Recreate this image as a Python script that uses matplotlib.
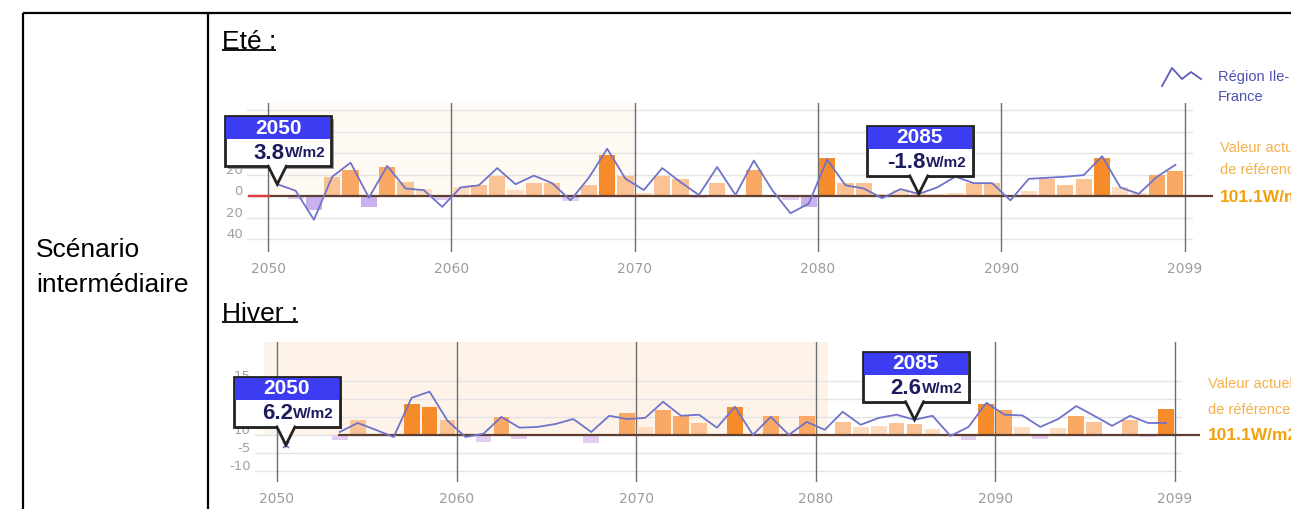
import numpy as np
import matplotlib
matplotlib.use("Agg")
import matplotlib.pyplot as plt
from matplotlib.patches import Rectangle, Polygon

W, H, DPI = 1291, 509, 100

years = list(range(2050, 2100))

# Eté : écart annuel (courbe régionale) et barres
ete_region = [11, 5, -22, 18, 31, -1.5, 28, 7, 5.5, -10,
              8, 10, 26, 11, 19, 12, -4, 17, 44, 16,
              5.6, 26, 13, 1, 27, 1, 33, 5.6, -16, -7,
              34, 10, 7, -2, 6.5, 2, 8, 18, 12, 12,
              -4, 16, 17, 18, 19.5, 37, 8, 2, 18, 29]
ete_barres = [0, -3, -13, 18, 24, -10, 27, 13, 7, -4,
              8, 10, 19, 6, 12, 12, -5, 10, 38, 19,
              3, 19, 16, -2, 12, 1, 24, 1, -4, -10,
              35, 12, 12, 2, 6, 3, 2, 3, 12, 12,
              1, 5, 16, 10, 16, 35, 8, 3, 20, 23]

# Hiver : écart annuel (courbe régionale) et barres
nan = float("nan")
hiver_region = [-2.8, nan, nan, 0.8, 3.3, 1.4, -0.6, 10.3, 12, 3.9,
                -0.6, 0.3, 5, 2, 2.2, 3, 4.4, 0.8, 5.3, 4.4,
                4.7, 9.2, 5.3, 5.6, 2, 7.8, 0, 5, 0, 3.6,
                1.4, 6.4, 2.8, 4.7, 5.6, 4.2, 5.3, -0.3, 2.2, 8.9,
                5.6, 5.4, 2.2, 4.4, 8, 5.3, 2.5, 5.3, 3.3, 3.3]
hiver_barres = [0, 0, 0, -1.5, 4.2, 0, 0, 8.6, 7.8, 4.2,
                0, -1.9, 5, -1.1, -0.3, 0, 0, -2.2, 0, 6,
                2.2, 6.9, 5.3, 3.3, 0, 7.8, 0, 5.3, 0, 5.3,
                0, 3.6, 2.2, 2.5, 3.3, 3, 1.7, 0, -1.5, 8.6,
                6.9, 2.2, -1.1, 2, 5.3, 3.6, 0, 4.2, -0.7, 7.2]

x_ticks = [2050, 2060, 2070, 2080, 2090, 2100]
x_labels = ["2050", "2060", "2070", "2080", "2090", "2099"]

ete_yticks = [-40, -20, 0, 20, 40, 60, 80]
ete_ylabels = ["40", "20", "0", "20", "", "", ""]
hiver_yticks = [-10, -5, 0, 5, 10, 15]
hiver_ylabels = ["-10", "-5", "10", "", "", "15"]

ete_bulles = [(2050, "3.8"), (2085, "-1.8")]
hiver_bulles = [(2050, "6.2"), (2085, "2.6")]

reference = "101.1W/m2"

SANS = ["Liberation Sans", "DejaVu Sans"]
NARROW = ["Liberation Sans Narrow", "Liberation Sans", "DejaVu Sans"]

fig = plt.figure(figsize=(W / DPI, H / DPI), dpi=DPI)
fig.patch.set_facecolor("white")


def px_axes(x0, y0, x1, y1, **kw):
    return fig.add_axes([x0 / W, 1 - y1 / H, (x1 - x0) / W, (y1 - y0) / H], **kw)


ov = px_axes(0, 0, W, H, zorder=10)
ov.set_xlim(0, W)
ov.set_ylim(H, 0)
ov.axis("off")
ov.patch.set_alpha(0)

# table borders
for xs, ys in [([23, W + 5], [13, 13]), ([23, 23], [13, H + 5]), ([208, 208], [13, H + 5])]:
    ov.plot(xs, ys, color="black", lw=1.6, solid_capstyle="butt", clip_on=False)

ov.text(36, 250, "Scénario", fontsize=19, family=SANS, va="center", ha="left")
ov.text(36, 285, "intermédiaire", fontsize=19, family=SANS, va="center", ha="left")

renderer = fig.canvas.get_renderer()


def underlined(x, y, s):
    t = ov.text(x, y, s, fontsize=19, family=SANS, va="center", ha="left")
    bb = t.get_window_extent(renderer)
    (x0, _), (x1, _) = ov.transData.inverted().transform([[bb.x0, bb.y0], [bb.x1, bb.y0]])
    ov.plot([x0, x1], [y + 8, y + 8], color="black", lw=1.3, solid_capstyle="butt")


underlined(222, 42, "Eté :")
underlined(222, 314, "Hiver :")


def bar_colour(v, steps):
    a = abs(v)
    if v >= 0:
        pal = ["#FDDCC0", "#FBC393", "#F9A964", "#F68B2C"]
    else:
        pal = ["#E2CDF3", "#C9B0EE", "#B597E6", "#A07FDD"]
    idx = sum(a >= s for s in steps)
    return pal[idx]


def draw_chart(box, xlim, ylim, region, barres, yticks, ylabels, steps,
               tint, zero_from, zero_to, red_to=None):
    ax = px_axes(*box, zorder=2)
    ax.set_xlim(*xlim)
    ax.set_ylim(*ylim)
    for s in ax.spines.values():
        s.set_visible(False)
    ax.patch.set_alpha(0)
    # faint background tint
    y0f = (0 - ylim[0]) / (ylim[1] - ylim[0])
    ax.axvspan(tint[0], tint[1], ymin=y0f, ymax=1, color=tint[2], lw=0, zorder=0)
    for yv in yticks:
        ax.axhline(yv, color="#E4E4E4", lw=1, zorder=1)
    for xv in x_ticks:
        ax.axvline(xv, color="#6E6E6E", lw=1, zorder=1)
    xs = np.array(years) + 0.5
    cols = [bar_colour(v, steps) for v in barres]
    ax.bar(xs, barres, width=0.88, color=cols, zorder=2, lw=0)
    ax.plot([zero_from, zero_to], [0, 0], color="#5E3E31", lw=1.6, zorder=3,
            clip_on=False, solid_capstyle="butt")
    if red_to is not None:
        ax.plot([zero_from, red_to], [0, 0], color="#E23B3B", lw=1.6, zorder=3,
                clip_on=False, solid_capstyle="butt")
    reg = np.array(region, dtype=float)
    ax.plot(xs, reg, color="#6F73C9", lw=1.3, zorder=4)
    # isolated values get a small cross
    for i, v in enumerate(reg):
        if np.isnan(v):
            continue
        prev_nan = i == 0 or np.isnan(reg[i - 1])
        next_nan = i == len(reg) - 1 or np.isnan(reg[i + 1])
        if prev_nan and next_nan:
            ax.plot([xs[i]], [v], marker="x", ms=5, color="#6F73C9", mew=1.2, zorder=4)
    ax.set_xticks(x_ticks, x_labels)
    ax.tick_params(axis="x", length=0, pad=7, labelsize=10, labelcolor="#9C9C9C")
    ax.set_yticks([])
    for yv, lab in zip(yticks, ylabels):
        if lab:
            ax.annotate(lab, xy=(0, yv), xycoords=("axes fraction", "data"),
                        xytext=(-3, 3), textcoords="offset points", ha="right",
                        va="center", fontsize=9.5, color="#A0A0A0")
    return ax, xs


ax_e, xs_e = draw_chart((247, 103, 1193, 252), (2048.85, 2100.46), (-52, 86.5),
                        ete_region, ete_barres, ete_yticks, ete_ylabels,
                        [10, 20, 30], (2050, 2070, "#FFF9F3"),
                        2048.9, 2101.55, red_to=2050.1)
ax_h, xs_h = draw_chart((255, 342, 1182, 482), (2048.78, 2100.39), (-13.1, 25.8),
                        hiver_region, hiver_barres, hiver_yticks, hiver_ylabels,
                        [3, 5, 7], (2049.3, 2080.7, "#FEF3E9"),
                        2053.4, 2101.4)

fig.canvas.draw()


def bulle(ax, xs, serie, year, val):
    i = years.index(year)
    v = serie[i]
    disp = ax.transData.transform((xs[i], v))
    tx, ty = ov.transData.inverted().transform(disp)
    bw, bh, hh = 106, 50, 22
    left = tx - 52
    bottom = ty - 18
    top = bottom - bh
    ov.add_patch(Rectangle((left + 2.5, top + 2.5), bw, bh, fc="#9A9A9A", ec="none", zorder=11))
    ov.add_patch(Rectangle((left, top), bw, bh, fc="white", ec="#222222", lw=2, zorder=12))
    ov.add_patch(Rectangle((left + 1, top + 1), bw - 2, hh, fc="#3C3CF3", ec="none", zorder=13))
    ov.add_patch(Polygon([(tx - 9, bottom - 1.5), (tx, ty), (tx + 9, bottom - 1.5)],
                         closed=True, fc="white", ec="none", zorder=14))
    ov.plot([tx - 9, tx, tx + 9], [bottom, ty, bottom], color="#222222", lw=2, zorder=15,
            solid_joinstyle="miter")
    ov.text(left + bw / 2, top + hh / 2 + 1, str(year), color="white", fontsize=15,
            fontweight="bold", family=NARROW, ha="center", va="center", zorder=16)
    u = ov.text(left + bw - 6, top + hh + (bh - hh) / 2 + 1, "W/m2", color="#1C1C5E",
                fontsize=11, fontweight="bold", family=NARROW, ha="right",
                va="center", zorder=16)
    bb = u.get_window_extent(renderer)
    ux = ov.transData.inverted().transform([[bb.x0, bb.y0]])[0][0]
    ov.text(ux - 0.5, top + hh + (bh - hh) / 2 + 1, val, color="#1C1C5E", fontsize=16,
            fontweight="bold", family=NARROW, ha="right", va="center", zorder=16)


for yr, val in ete_bulles:
    bulle(ax_e, xs_e, ete_region, yr, val)
for yr, val in hiver_bulles:
    bulle(ax_h, xs_h, hiver_region, yr, val)

# legend of the regional curve
ov.plot([1162, 1172, 1182, 1191, 1201], [86, 68, 79, 72, 79], color="#5A5EB8", lw=1.3)
ov.text(1218, 77, "Région Ile-", fontsize=10.5, color="#4D51B0", family=SANS, va="center")
ov.text(1218, 97, "France", fontsize=10.5, color="#4D51B0", family=SANS, va="center")

# reference value labels
for (xt, y1, y2, y3) in [(1220, 148, 170, 197), (1208, 384, 410, 436)]:
    ov.text(xt, y1, "Valeur actuelle", fontsize=10.5, color="#F4B04A", family=SANS, va="center")
    ov.text(xt, y2, "de référence", fontsize=10.5, color="#F4B04A", family=SANS, va="center")
    ov.text(xt, y3, reference, fontsize=12.5, color="#F2A20C", family=SANS,
            fontweight="bold", va="center")

fig.savefig("out.png", dpi=DPI, facecolor="white")
